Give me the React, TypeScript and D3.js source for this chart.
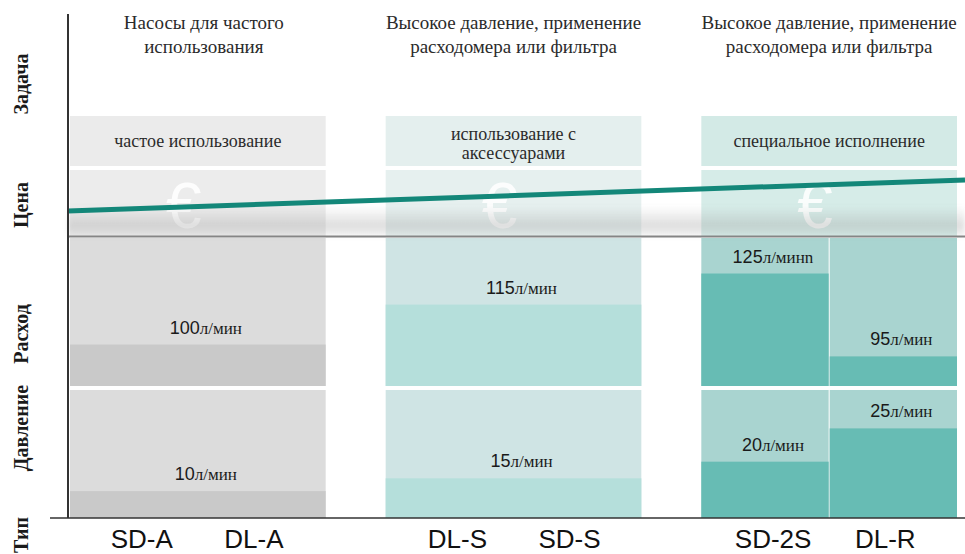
import React from 'react'
import * as d3 from 'd3'

// chart data
const groups = ['frequent', 'accessories', 'special']
const headerLines = [
  ['Насосы для частого', 'использования'],
  ['Высокое давление, применение', 'расходомера или фильтра'],
  ['Высокое давление, применение', 'расходомера или фильтра'],
]
const taskLines = [
  ['частое использование'],
  ['использование с', 'аксессуарами'],
  ['специальное  исполнение'],
]
const pumpTypes = [['SD-A', 'DL-A'], ['DL-S', 'SD-S'], ['SD-2S', 'DL-R']]
const flowValues = [[100], [115], [125, 95]]
const flowUnits = [['л/мин'], ['л/мин'], ['л/минn', 'л/мин']]
const flowLevel = [[0.28], [0.55], [0.76, 0.2]]
const pressureValues = [[10], [15], [20, 25]]
const pressureLevel = [[0.21], [0.31], [0.44, 0.7]]
const priceTrend = [0.38, 0.85]
const rowLabels = ['Задача', 'Цена', 'Расход', 'Давление', 'Тип']

const palette = [
  {task: '#ebebeb', price: '#ececec', light: '#dcdcdc', dark: '#c9c9c9'},
  {task: '#e4efee', price: '#e6f0ef', light: '#cfe4e4', dark: '#b5dfdb'},
  {task: '#d3eae6', price: '#d6ece8', light: '#a9d4d0', dark: '#67bcb4'},
]

const W = 965
const H = 554
const axisX = 68
const baseY = 518
const rows = {
  task: [116, 166],
  price: [170, 236],
  flow: [238, 386],
  pressure: [390, baseY],
}
const rowLabelY = [84, 205, 334, 428, 535]

const serif = '"Liberation Serif", "DejaVu Serif", serif'
const sans = '"Liberation Sans", Arial, sans-serif'

const Section = ({x0, x1, g, range, values, levels, units}) => {
  const cols = d3.scaleBand().domain(d3.range(values.length)).range([x0, x1]).paddingInner(values.length > 1 ? 0.008 : 0)
  const y = d3.scaleLinear().domain([0, 1]).range([range[1], range[0]])
  return (
    <g>
      {values.map((v, i) => {
        const cx = cols(i)
        const top = y(levels[i])
        return (
          <g key={i}>
            <rect x={cx} y={range[0]} width={cols.bandwidth()} height={range[1] - range[0]} fill={palette[g].light} />
            <rect x={cx} y={top} width={cols.bandwidth()} height={range[1] - top} fill={palette[g].dark} />
            <text x={cx + cols.bandwidth() / 2 + 8} y={top - 11} textAnchor="middle" fill="#1a1a1a">
              <tspan fontFamily={sans} fontSize={18}>{v}</tspan>
              <tspan fontFamily={serif} fontSize={17}>{units[i]}</tspan>
            </text>
          </g>
        )
      })}
    </g>
  )
}

const App = () => {
  const x = d3.scaleBand().domain(groups).range([70, 957]).paddingInner(0.19).paddingOuter(0)
  const bw = x.bandwidth()
  const priceY = d3.scaleLinear().domain([0, 1]).range([rows.price[1], rows.price[0]])
  const trendX = d3.scaleLinear().domain([0, 1]).range([axisX, W])
  const line = d3.line().x((d, i) => trendX(i)).y(d => priceY(d))

  return (
    <svg width={W} height={H} style={{position: 'absolute', left: 0, top: 0, background: '#fff'}}>
      <defs>
        <linearGradient id="shade" x1="0" y1="0" x2="0" y2="1">
          <stop offset="0" stopColor="#999" stopOpacity="0" />
          <stop offset="0.65" stopColor="#999" stopOpacity="0.32" />
          <stop offset="1" stopColor="#999" stopOpacity="0.12" />
        </linearGradient>
        <filter id="blur" x="-5%" y="-50%" width="110%" height="200%">
          <feGaussianBlur stdDeviation="2.5" />
        </filter>
      </defs>

      {groups.map((grp, g) => {
        const x0 = x(grp)
        const x1 = x0 + bw
        const cx = x0 + bw / 2
        const types = d3.scalePoint().domain(pumpTypes[g]).range([x0, x1]).padding(0.64)
        return (
          <g key={grp}>
            <text x={cx} textAnchor="middle" fontFamily={serif} fontSize={19} fill="#2b2b2b">
              {headerLines[g].map((l, i) => (
                <tspan key={i} x={cx + (g === 0 ? 6 : 0)} y={29 + i * 24}>{l}</tspan>
              ))}
            </text>
            <rect x={x0} y={rows.task[0]} width={bw} height={rows.task[1] - rows.task[0]} fill={palette[g].task} />
            <text textAnchor="middle" fontFamily={serif} fontSize={18} fill="#2b2b2b">
              {taskLines[g].map((l, i) => (
                <tspan key={i} x={cx} y={(taskLines[g].length > 1 ? 140 : 147) + i * 19}>{l}</tspan>
              ))}
            </text>
            <rect x={x0} y={rows.price[0]} width={bw} height={rows.price[1] - rows.price[0]} fill={palette[g].price} />
            <text x={cx - 14} y={228} textAnchor="middle" fontFamily={sans} fontSize={64} fill="#fff" opacity={0.9}>€</text>
            <Section x0={x0} x1={x1} g={g} range={rows.flow} values={flowValues[g]} levels={flowLevel[g]} units={flowUnits[g]} />
            <Section x0={x0} x1={x1} g={g} range={rows.pressure} values={pressureValues[g]} levels={pressureLevel[g]} units={['л/мин', 'л/мин']} />
            {pumpTypes[g].map(t => (
              <text key={t} x={types(t)} y={548} textAnchor="middle" fontFamily={sans} fontSize={26} fill="#111">{t}</text>
            ))}
          </g>
        )
      })}

      {/* soft shadow under the price line */}
      <rect x={axisX} y={206} width={W - axisX} height={30} fill="url(#shade)" filter="url(#blur)" />
      <line x1={axisX} x2={W} y1={236.5} y2={236.5} stroke="#858585" strokeWidth={2} />
      <path d={line(priceTrend)} fill="none" stroke="#138779" strokeWidth={5} />

      <line x1={axisX} x2={axisX} y1={14} y2={baseY} stroke="#333" strokeWidth={2} />
      <line x1={50} x2={W} y1={baseY} y2={baseY} stroke="#333" strokeWidth={1.5} />

      {rowLabels.map((l, i) => (
        <text key={l} transform={`translate(28, ${rowLabelY[i]}) rotate(-90)`} textAnchor="middle"
          fontFamily={serif} fontWeight="bold" fontSize={20} fill="#1a1a1a">{l}</text>
      ))}
    </svg>
  )
}

export default App
